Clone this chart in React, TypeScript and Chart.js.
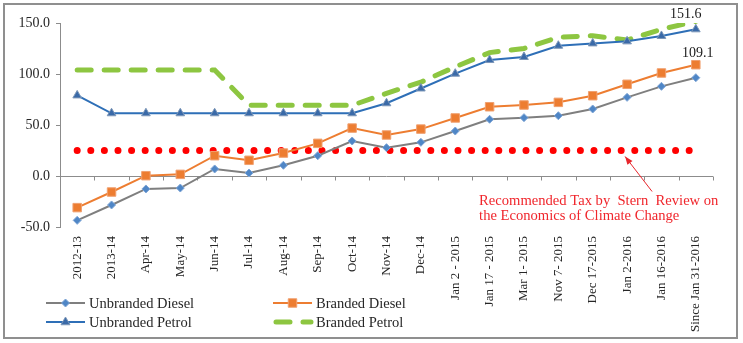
import React, { useEffect, useRef } from "react";
import { Chart, registerables } from "chart.js";

Chart.register(...registerables);

const categories = [
  "2012-13", "2013-14", "Apr-14", "May-14", "Jun-14", "Jul-14", "Aug-14", "Sep-14", "Oct-14",
  "Nov-14", "Dec-14", "Jan 2 - 2015", "Jan 17 - 2015", "Mar 1- 2015", "Nov 7- 2015",
  "Dec 17-2015", "Jan 2-2016", "Jan 16-2016", "Since Jan 31-2016",
];
const unbrandedDiesel = [-43.5, -28.4, -12.7, -11.8, 6.9, 2.9, 10.5, 19.9, 34.3, 27.8, 33.0, 44.1, 55.6, 57.2, 59.1, 65.7, 77.1, 87.9, 96.4];
const brandedDiesel = [-31.0, -15.7, 0.3, 1.6, 19.9, 15.4, 22.5, 32.0, 47.0, 40.2, 46.0, 56.9, 67.9, 69.6, 72.2, 78.7, 89.9, 101.0, 109.1];
const unbrandedPetrol = [79.0, 61.5, 61.5, 61.5, 61.5, 61.5, 61.5, 61.5, 61.5, 71.3, 85.8, 100.3, 113.7, 116.7, 127.7, 130.0, 132.0, 137.3, 143.8];
const brandedPetrol = [104.0, 104.0, 104.0, 104.0, 104.0, 69.3, 69.3, 69.3, 69.3, 81.0, 92.0, 107.0, 121.0, 125.0, 136.0, 137.5, 133.3, 143.8, 151.6];
const sternTax = [25, 25, 25, 25, 25, 25, 25, 25, 25, 25, 25, 25, 25, 25, 25, 25, 25, 25, 25];
const seriesNames = ["Unbranded Diesel", "Branded Diesel", "Unbranded Petrol", "Branded Petrol"];
const yTicks = [-50, 0, 50, 100, 150];
const annotationLines = ["Recommended Tax by  Stern  Review on", "the Economics of Climate Change"];
const annotationIndex = 16;

const FONT = '"Liberation Serif", "Times New Roman", serif';
const GRAY_AXIS = "#8c8c8c";

function drawMarker(ctx: CanvasRenderingContext2D, style: string, x: number, y: number, r: number, fill: string, stroke: string) {
  ctx.save();
  ctx.fillStyle = fill;
  ctx.strokeStyle = stroke;
  ctx.lineWidth = 1;
  ctx.setLineDash([]);
  ctx.beginPath();
  if (style === "rectRot") {
    ctx.moveTo(x, y - r);
    ctx.lineTo(x + r, y);
    ctx.lineTo(x, y + r);
    ctx.lineTo(x - r, y);
    ctx.closePath();
  } else if (style === "rect") {
    const s = r * Math.SQRT1_2;
    ctx.rect(x - s, y - s, 2 * s, 2 * s);
  } else if (style === "triangle") {
    ctx.moveTo(x, y - r);
    ctx.lineTo(x + r * 0.9, y + r * 0.55);
    ctx.lineTo(x - r * 0.9, y + r * 0.55);
    ctx.closePath();
  }
  ctx.fill();
  ctx.stroke();
  ctx.restore();
}

const decoPlugin = {
  id: "deco",
  beforeDraw(chart: any) {
    const ctx = chart.ctx;
    ctx.save();
    ctx.fillStyle = "#ffffff";
    ctx.fillRect(0, 0, chart.width, chart.height);
    ctx.restore();
  },
  beforeDatasetsDraw(chart: any) {
    const ctx = chart.ctx;
    const xs = chart.scales.x;
    const ys = chart.scales.y;
    const area = chart.chartArea;
    const y0 = Math.round(ys.getPixelForValue(0)) + 0.5;
    ctx.save();
    ctx.strokeStyle = GRAY_AXIS;
    ctx.lineWidth = 1;
    ctx.beginPath();
    ctx.moveTo(area.left, y0);
    ctx.lineTo(area.right, y0);
    const n = categories.length;
    const w = (area.right - area.left) / n;
    for (let i = 1; i <= n; i++) {
      const xp = Math.round(xs.getPixelForValue(i - 1) + w / 2) + 0.5;
      ctx.moveTo(xp, y0);
      ctx.lineTo(xp, y0 + 4);
    }
    ctx.stroke();
    ctx.restore();
  },
  afterDraw(chart: any) {
    const ctx = chart.ctx;
    const xs = chart.scales.x;
    const ys = chart.scales.y;
    ctx.save();
    // frame
    ctx.strokeStyle = "#8f8f8f";
    ctx.lineWidth = 2;
    ctx.strokeRect(4, 4, 733, 334);

    // value labels
    ctx.fillStyle = "#1a1a1a";
    ctx.font = "14px " + FONT;
    ctx.textAlign = "center";
    ctx.textBaseline = "alphabetic";
    const last = categories.length - 1;
    const bp = chart.getDatasetMeta(3).data[last];
    ctx.fillText(brandedPetrol[last].toFixed(1), bp.x - 10, bp.y - 3);
    const bd = chart.getDatasetMeta(1).data[last];
    ctx.fillText(brandedDiesel[last].toFixed(1), bd.x + 2, bd.y - 8);

    // annotation
    const ax = xs.getPixelForValue(annotationIndex);
    const ay = ys.getPixelForValue(sternTax[annotationIndex]);
    const hx = ax - 2, hy = ay + 6;
    const tx = ax + 25, ty = ay + 41;
    ctx.strokeStyle = "#e8262c";
    ctx.fillStyle = "#e8262c";
    ctx.lineWidth = 1;
    ctx.beginPath();
    ctx.moveTo(tx, ty);
    ctx.lineTo(hx, hy);
    ctx.stroke();
    const ang = Math.atan2(hy - ty, hx - tx);
    const L = 8, Wd = 3.2;
    ctx.beginPath();
    ctx.moveTo(hx, hy);
    ctx.lineTo(hx - L * Math.cos(ang) + Wd * Math.sin(ang), hy - L * Math.sin(ang) - Wd * Math.cos(ang));
    ctx.lineTo(hx - L * Math.cos(ang) - Wd * Math.sin(ang), hy - L * Math.sin(ang) + Wd * Math.cos(ang));
    ctx.closePath();
    ctx.fill();
    ctx.fillStyle = "#f0262c";
    ctx.font = "14.6px " + FONT;
    ctx.textAlign = "left";
    annotationLines.forEach((t, i) => {
      ctx.fillText(t, ax - 148, ay + 54 + i * 15);
    });

    // legend (2 x 2)
    const colX = [46, 273];
    const rowY = [303, 322];
    ctx.font = "14.5px " + FONT;
    ctx.textBaseline = "middle";
    for (let i = 0; i < 4; i++) {
      const ds = chart.data.datasets[i];
      const lx = colX[i % 2];
      const ly = rowY[Math.floor(i / 2)];
      ctx.save();
      ctx.strokeStyle = ds.borderColor;
      ctx.lineWidth = ds.borderWidth;
      ctx.lineCap = ds.borderCapStyle || "butt";
      ctx.setLineDash(ds.borderDash || []);
      ctx.beginPath();
      if (ds.borderDash && ds.borderDash.length) {
        ctx.moveTo(lx + 3, ly);
        ctx.lineTo(lx + 38, ly);
      } else {
        ctx.moveTo(lx, ly);
        ctx.lineTo(lx + 39, ly);
      }
      ctx.stroke();
      ctx.restore();
      if (ds.pointRadius > 0) {
        drawMarker(ctx, ds.pointStyle, lx + 19.5, ly, ds.pointRadius, ds.pointBackgroundColor, ds.pointBorderColor);
      }
      ctx.fillStyle = "#262626";
      ctx.textAlign = "left";
      ctx.fillText(ds.label, lx + 43, ly + 1);
    }
    ctx.restore();
  },
};

export default function App() {
  const ref = useRef<HTMLCanvasElement | null>(null);
  useEffect(() => {
    if (!ref.current) return;
    const chart = new Chart(ref.current, {
      type: "line",
      data: {
        labels: categories,
        datasets: [
          {
            label: seriesNames[0],
            data: unbrandedDiesel,
            borderColor: "#7f7f7f",
            borderWidth: 2,
            pointStyle: "rectRot",
            pointRadius: 4,
            pointBackgroundColor: "#4f86c6",
            pointBorderColor: "#7fa6d6",
            pointBorderWidth: 1,
            order: 2,
          },
          {
            label: seriesNames[1],
            data: brandedDiesel,
            borderColor: "#ed7d31",
            borderWidth: 2,
            pointStyle: "rect",
            pointRadius: 6,
            pointBackgroundColor: "#ed7d31",
            pointBorderColor: "#f0a070",
            pointBorderWidth: 1,
            order: 1,
          },
          {
            label: seriesNames[2],
            data: unbrandedPetrol,
            borderColor: "#2e6fb7",
            borderWidth: 2,
            pointStyle: "triangle",
            pointRadius: 5,
            pointBackgroundColor: "#3a6aa8",
            pointBorderColor: "#7d97b8",
            pointBorderWidth: 1,
            order: 0,
          },
          {
            label: seriesNames[3],
            data: brandedPetrol,
            borderColor: "#8dc641",
            borderWidth: 5,
            borderDash: [14, 13],
            borderCapStyle: "round",
            pointRadius: 0,
            pointHoverRadius: 0,
            order: 3,
          },
          {
            label: "Recommended Tax by Stern Review",
            data: sternTax,
            borderColor: "#ff0000",
            borderWidth: 7,
            borderDash: [0, 13.6],
            borderCapStyle: "round",
            pointRadius: 0,
            pointHoverRadius: 0,
            order: 4,
          },
        ],
      },
      options: {
        animation: false,
        responsive: false,
        devicePixelRatio: 1,
        layout: { padding: { left: 0, right: 30, top: 23, bottom: 6 } },
        plugins: {
          legend: { display: false },
          tooltip: { enabled: false },
        },
        scales: {
          x: {
            type: "category",
            offset: true,
            grid: { display: false, drawTicks: false },
            border: { display: false },
            ticks: {
              autoSkip: false,
              minRotation: 90,
              maxRotation: 90,
              padding: 9,
              color: "#262626",
              font: { family: FONT, size: 13 },
            },
            afterFit: (s: any) => {
              s.height = 110;
            },
          },
          y: {
            min: -50,
            max: 150,
            afterBuildTicks: (s: any) => {
              s.ticks = yTicks.map((v) => ({ value: v }));
            },
            grid: { drawOnChartArea: false, drawTicks: true, tickLength: 4, color: GRAY_AXIS },
            border: { display: true, color: GRAY_AXIS, width: 1 },
            ticks: {
              padding: 6,
              color: "#262626",
              font: { family: FONT, size: 14 },
              callback: (v: any) => Number(v).toFixed(1),
            },
            afterFit: (s: any) => {
              s.width = 60;
            },
          },
        },
      },
      plugins: [decoPlugin],
    } as any);
    return () => chart.destroy();
  }, []);
  return (
    <div style={{ position: "fixed", left: 0, top: 0, width: 743, height: 343, background: "#fff" }}>
      <canvas ref={ref} width={743} height={343} style={{ width: 743, height: 343, display: "block" }} />
    </div>
  );
}
